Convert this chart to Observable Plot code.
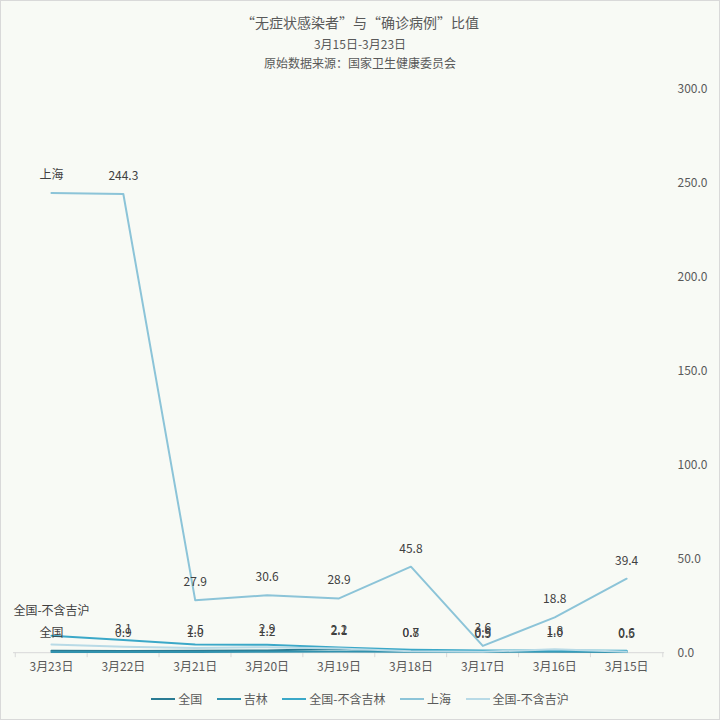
<!DOCTYPE html>
<html><head><meta charset="utf-8">
<script src="https://cdn.jsdelivr.net/npm/d3@7"></script>
<script src="https://cdn.jsdelivr.net/npm/@observablehq/plot@0.6"></script>
<style>
html,body{margin:0;padding:0;background:#f8faf5;}
#wrap{position:relative;width:720px;height:720px;box-sizing:border-box;border:1px solid #d9d9d9;background:#f8faf5;font-family:"Noto Sans CJK SC","Noto Sans",sans-serif;color:#595959;overflow:hidden}
.t{position:absolute;left:0;width:100%;text-align:center;white-space:nowrap}
#chart{position:absolute;left:-1px;top:70px}
#legend{position:absolute;left:0;width:100%;top:689px;display:flex;justify-content:center;gap:14.5px;font-size:12px;line-height:18px}
#legend .it{display:flex;align-items:center}
#legend .sw{display:inline-block;width:24px;height:2px;margin-right:3px}
</style></head><body>
<div id="wrap">
  <div class="t" style="top:11px;font-size:14px;line-height:20px">“无症状感染者”与“确诊病例”比值</div>
  <div class="t" style="top:34px;font-size:12px;line-height:18px">3月15日-3月23日</div>
  <div class="t" style="top:53px;font-size:12px;line-height:18px">原始数据来源：国家卫生健康委员会</div>
  <div id="chart"></div>
  <div id="legend"></div>
</div>
<script>
const dates = ["3月23日","3月22日","3月21日","3月20日","3月19日","3月18日","3月17日","3月16日","3月15日"];
const seriesNames = ["全国","吉林","全国-不含吉林","上海","全国-不含吉沪"];
const seriesColors = ["#2a7b93","#3192ae","#3ba8c8","#8cc4d8","#b8dae6"];
const quanguo      = [1.0, 0.9, 1.0, 1.2, 2.1, 0.8, 0.9, 1.0, 0.6];
const jilin        = [0.4, 0.4, 0.3, 0.5, 0.6, 0.5, 0.4, 0.5, 0.4];
const buhanJilin   = [9.0, 6.8, 4.4, 4.2, 2.8, 1.6, 1.2, 1.1, 1.0];
const shanghai     = [244.8, 244.3, 27.9, 30.6, 28.9, 45.8, 3.6, 18.8, 39.4];
const buhanJiHu    = [4.4, 3.1, 2.5, 2.9, 2.2, 0.7, 0.5, 1.8, 0.5];
const yTicks = [0, 50, 100, 150, 200, 250, 300];
const labeledSeries = ["全国","上海","全国-不含吉沪"];

const valuesBySeries = [quanguo, jilin, buhanJilin, shanghai, buhanJiHu];
const rows = [];
seriesNames.forEach((s, k) => dates.forEach((d, i) => rows.push({series: s, date: d, value: valuesBySeries[k][i], idx: i})));

const fmt = d3.format(".1f");
const valueLabels = rows.filter(r => labeledSeries.includes(r.series) && r.idx > 0);
const nameLabels = rows.filter(r => labeledSeries.includes(r.series) && r.idx === 0);

const W = 720, H = 610, mL = 13, mR = 55, mT = 18, mB = 28;
const step = (W - mL - mR) / dates.length;
const frameH = H - mT - mB;
const font = '"Noto Sans CJK SC","Noto Sans",sans-serif';

const chart = Plot.plot({
  width: W, height: H,
  marginTop: mT, marginBottom: mB, marginLeft: mL, marginRight: mR,
  style: {background: "transparent", fontFamily: font, fontSize: "12px", color: "#595959", overflow: "visible"},
  x: {type: "point", domain: dates, padding: 0.5, label: null},
  y: {domain: [0, 300], label: null},
  color: {domain: seriesNames, range: seriesColors},
  marks: [
    Plot.ruleY([0], {stroke: "#d9d9d9", strokeWidth: 1}),
    Plot.ruleX(dates, {x: d => d, dx: -step / 2, insetTop: frameH, insetBottom: -5, stroke: "#d9d9d9"}),
    Plot.ruleX(dates.slice(-1), {x: d => d, dx: step / 2, insetTop: frameH, insetBottom: -5, stroke: "#d9d9d9"}),
    Plot.axisX({tickSize: 0, tickPadding: 10, fill: "#595959", fontSize: 12}),
    Plot.axisY({anchor: "right", ticks: yTicks, tickSize: 0, tickPadding: 13, tickFormat: fmt, fill: "#595959", fontSize: 12}),
    Plot.line(rows, {x: "date", y: "value", z: "series", stroke: "series", strokeWidth: 2, strokeLinejoin: "round"}),
    Plot.text(valueLabels, {x: "date", y: "value", text: d => fmt(d.value), dy: -18, fill: "#404040", fontSize: 12}),
    Plot.text(nameLabels.filter(d => d.series !== "全国-不含吉沪"), {x: "date", y: "value", text: "series", dy: -18, fill: "#404040", fontSize: 12}),
    Plot.text(nameLabels.filter(d => d.series === "全国-不含吉沪"), {x: "date", y: "value", text: "series", dy: -33, fill: "#404040", fontSize: 12})
  ]
});
document.getElementById("chart").appendChild(chart);

const legend = document.getElementById("legend");
seriesNames.forEach((s, k) => {
  const it = document.createElement("div");
  it.className = "it";
  it.innerHTML = `<span class="sw" style="background:${seriesColors[k]}"></span><span>${s}</span>`;
  legend.appendChild(it);
});
</script>
</body></html>
